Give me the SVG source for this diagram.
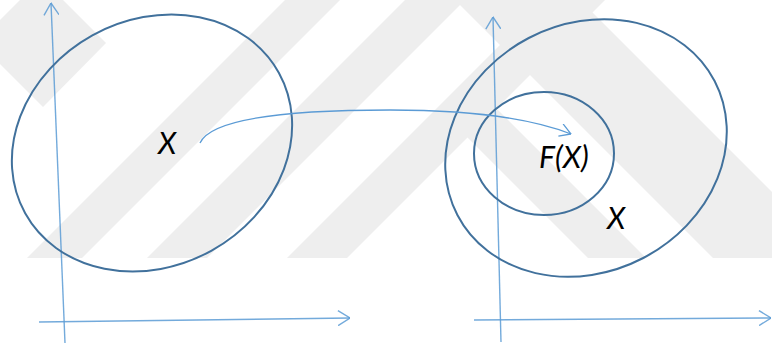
<svg xmlns="http://www.w3.org/2000/svg" width="772" height="349" viewBox="0 0 772 349">
  <style>
    .wm { fill: #eeeeee; stroke: none; }
    .axis { fill: none; stroke: #5b9bd5; stroke-width: 1.4; stroke-opacity: 0.85; }
    .set { fill: none; stroke: #41719c; stroke-width: 2; }
    .conn { fill: none; stroke: #5b9bd5; stroke-width: 1.3; }
    .lbl { font-family: Lato, "Liberation Sans", sans-serif; font-style: italic; font-size: 30px; fill: #000000; }
  </style>
  <defs>
    <marker id="axhead" viewBox="0 0 13 16" refX="12.5" refY="8" markerWidth="13" markerHeight="16" markerUnits="userSpaceOnUse" orient="auto">
      <path d="M0.5,0.5 L12.5,8 L0.5,15.5" fill="none" stroke="#5b9bd5" stroke-width="1.4" stroke-opacity="0.85"/>
    </marker>
    <marker id="conhead" viewBox="0 0 12 14" refX="11.5" refY="7" markerWidth="12" markerHeight="14" markerUnits="userSpaceOnUse" orient="auto">
      <path d="M0.5,0.5 L11.5,7 L0.5,13.5" fill="none" stroke="#5b9bd5" stroke-width="1.3"/>
    </marker>
  </defs>
  <rect x="0" y="0" width="772" height="349" fill="#ffffff"/>
  <g id="watermark">
    <polygon class="wm" points="0,20 20,0 63,0 106,43 43,107 0,64"/>
    <polygon class="wm" points="285,0 340,0 82,258 27,258"/>
    <polygon class="wm" points="405,0 465,0 207,258 147,258"/>
    <polygon class="wm" points="545,0 605,0 347,258 287,258"/>
    <polygon class="wm" points="440,110 498,110 646,258 588,258"/>
    <polygon class="wm" points="455,0 580,0 772,192 772,258 713,258"/>
  </g>
  <g id="axes">
    <path class="axis" d="M65,343 L51,3" marker-end="url(#axhead)"/>
    <path class="axis" d="M39,322 L350,318" marker-end="url(#axhead)"/>
    <path class="axis" d="M501,342 L493,17" marker-end="url(#axhead)"/>
    <path class="axis" d="M474,320 L771,318" marker-end="url(#axhead)"/>
  </g>
  <g id="set-left">
    <ellipse class="set" cx="152" cy="143" rx="145" ry="123" transform="rotate(-29 152 143)"/>
    <text class="lbl" x="158" y="154">X</text>
  </g>
  <g id="set-right">
    <ellipse class="set" cx="586" cy="148" rx="145" ry="124" transform="rotate(-27.5 586 148)"/>
    <text class="lbl" x="607" y="229">X</text>
  </g>
  <g id="set-image">
    <ellipse class="set" cx="544" cy="153.5" rx="70" ry="61.5"/>
    <text class="lbl" x="539" y="168">F(X)</text>
  </g>
  <g id="connectors">
    <path class="conn" d="M200,143 C212,116 300,110 390,110 C470,110 530,118 571,134" marker-end="url(#conhead)"/>
  </g>
</svg>
